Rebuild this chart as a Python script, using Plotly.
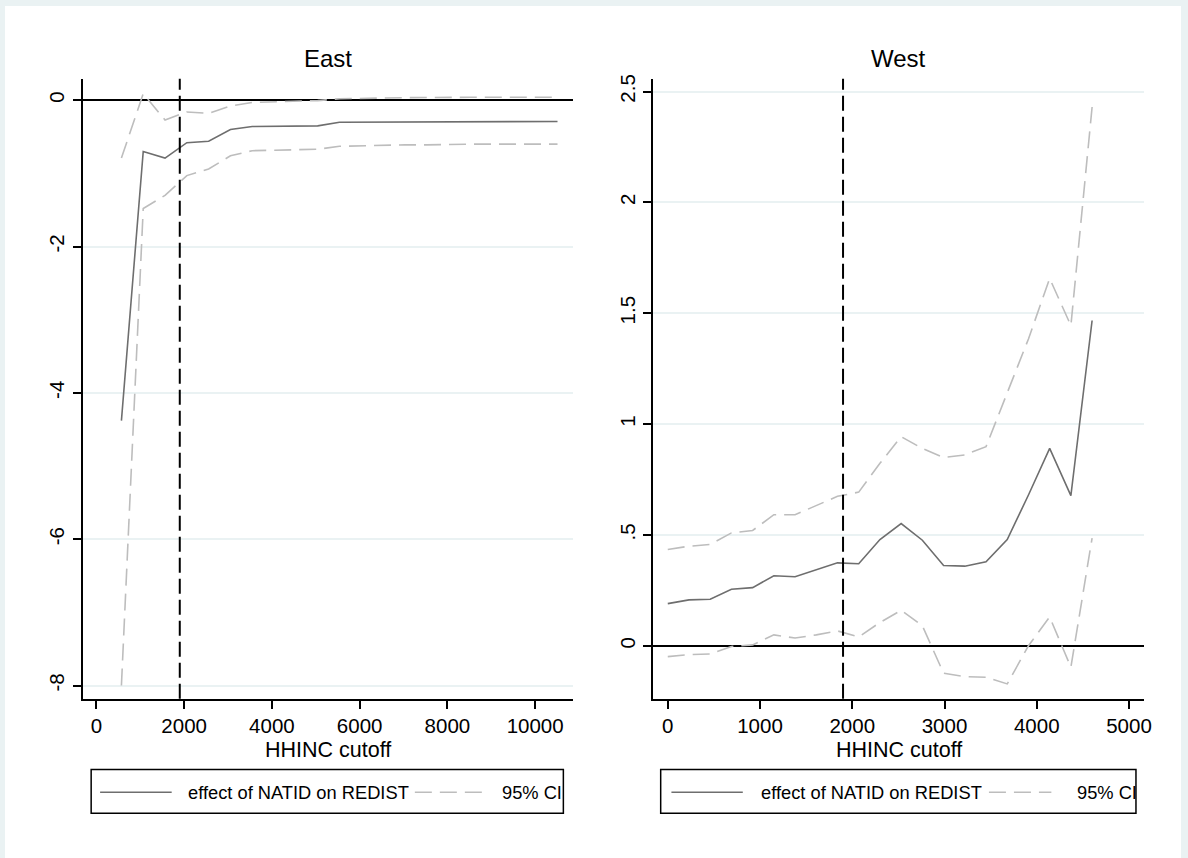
import plotly.graph_objects as go

# ---------------- data ----------------
east_x = [570, 1067, 1564, 2061, 2558, 3055, 3552, 4049, 4546, 5043, 5540,
          6037, 6534, 7031, 7528, 8025, 8522, 9019, 9516, 10013, 10510]
east_est = [-4.38, -0.70, -0.79, -0.58, -0.56, -0.40, -0.36, -0.36, -0.355, -0.35, -0.30,
            -0.30, -0.30, -0.295, -0.29, -0.29, -0.29, -0.29, -0.29, -0.29, -0.29]
east_hi = [-0.79, 0.09, -0.27, -0.16, -0.18, -0.08, -0.03, -0.02, -0.01, -0.005, 0.02,
           0.03, 0.03, 0.035, 0.04, 0.04, 0.04, 0.04, 0.04, 0.04, 0.04]
east_lo = [-8.0, -1.48, -1.30, -1.03, -0.94, -0.76, -0.69, -0.68, -0.68, -0.67, -0.63,
           -0.62, -0.61, -0.61, -0.61, -0.60, -0.60, -0.60, -0.60, -0.60, -0.60]

west_x = [0, 230, 460, 690, 920, 1150, 1380, 1610, 1840, 2070, 2300,
          2530, 2760, 2990, 3220, 3450, 3680, 3910, 4140, 4370, 4600]
west_est = [0.19, 0.207, 0.21, 0.255, 0.262, 0.316, 0.311, 0.344, 0.374, 0.370, 0.479,
            0.551, 0.476, 0.362, 0.359, 0.379, 0.479, 0.68, 0.890, 0.677, 1.467]
west_hi = [0.434, 0.449, 0.457, 0.509, 0.520, 0.591, 0.591, 0.633, 0.674, 0.693, 0.823,
           0.943, 0.890, 0.849, 0.861, 0.898, 1.145, 1.384, 1.657, 1.444, 2.43]
west_lo = [-0.049, -0.040, -0.037, -0.003, 0.004, 0.049, 0.035, 0.049, 0.067, 0.040, 0.105,
           0.160, 0.090, -0.124, -0.139, -0.142, -0.172, 0.0, 0.130, -0.097, 0.486]

cutoff_line = 1900
panel_titles = ["East", "West"]
x_title = "HHINC cutoff"
legend_labels = ["effect of NATID on REDIST", "95% CI"]

east_xticks = [0, 2000, 4000, 6000, 8000, 10000]
east_xticklabels = ["0", "2000", "4000", "6000", "8000", "10000"]
west_xticks = [0, 1000, 2000, 3000, 4000, 5000]
west_xticklabels = ["0", "1000", "2000", "3000", "4000", "5000"]
east_yticks = [0, -2, -4, -6, -8]
east_yticklabels = ["0", "-2", "-4", "-6", "-8"]
west_yticks = [0, 0.5, 1, 1.5, 2, 2.5]
west_yticklabels = ["0", ".5", "1", "1.5", "2", "2.5"]

# ---------------- style ----------------
W, H = 1188, 858
FONT = "Liberation Sans, Arial, sans-serif"
EST_COLOR = "#6e6e6e"
CI_COLOR = "#bdbdbd"
CI_DASH = "17px,8px"
GRID = "#eaf2f3"

def px(x):
    return x / W

def py(y):
    return 1 - y / H

fig = go.Figure()

def add_panel(xs, est, hi, lo, xa, ya):
    fig.add_trace(go.Scatter(x=xs, y=lo, mode="lines", xaxis=xa, yaxis=ya,
                             line=dict(color=CI_COLOR, width=1.6, dash=CI_DASH),
                             name=legend_labels[1], showlegend=False))
    fig.add_trace(go.Scatter(x=xs, y=hi, mode="lines", xaxis=xa, yaxis=ya,
                             line=dict(color=CI_COLOR, width=1.6, dash=CI_DASH),
                             name=legend_labels[1], showlegend=False))
    fig.add_trace(go.Scatter(x=xs, y=est, mode="lines", xaxis=xa, yaxis=ya,
                             line=dict(color=EST_COLOR, width=1.6),
                             name=legend_labels[0], showlegend=False))

add_panel(east_x, east_est, east_hi, east_lo, "x", "y")
add_panel(west_x, west_est, west_hi, west_lo, "x2", "y2")

ydom = [py(698), py(75)]
axis_common = dict(showline=True, linecolor="black", linewidth=2,
                   ticks="outside", ticklen=8, tickwidth=2, tickcolor="black",
                   tickfont=dict(family=FONT, size=20.5, color="black"),
                   mirror=False)

fig.update_layout(
    width=W, height=H,
    margin=dict(l=0, r=0, t=0, b=0),
    paper_bgcolor="#eaf2f3",
    plot_bgcolor="rgba(0,0,0,0)",
    showlegend=False,
    xaxis=dict(domain=[px(83), px(576)], range=[-317, 10854],
               tickvals=east_xticks, ticktext=east_xticklabels,
               showgrid=False, zeroline=False,
               anchor="y", **axis_common),
    yaxis=dict(domain=ydom, range=[-8.181, 0.295],
               tickvals=east_yticks, ticktext=east_yticklabels, tickangle=-90,
               showgrid=True, gridcolor=GRID, gridwidth=1.5,
               zeroline=True, zerolinecolor="black", zerolinewidth=2,
               anchor="x", **axis_common),
    xaxis2=dict(domain=[px(656.7), px(1151)], range=[-162, 5165],
                tickvals=west_xticks, ticktext=west_xticklabels,
                showgrid=False, zeroline=False,
                anchor="y2", **axis_common),
    yaxis2=dict(domain=ydom, range=[-0.239, 2.558],
                tickvals=west_yticks, ticktext=west_yticklabels, tickangle=-90,
                showgrid=True, gridcolor=GRID, gridwidth=1.5,
                zeroline=True, zerolinecolor="black", zerolinewidth=2,
                anchor="x2", **axis_common),
)

shapes = []
# white page inside thin light border
shapes.append(dict(type="rect", xref="paper", yref="paper", x0=px(5), x1=1, y0=0, y1=py(2),
                   fillcolor="white", line=dict(width=0), layer="below"))
# vertical cutoff lines
for xr, yr in [("x", "y domain"), ("x2", "y2 domain")]:
    shapes.append(dict(type="line", xref=xr, yref=yr, x0=cutoff_line, x1=cutoff_line, y0=0, y1=1,
                       line=dict(color="black", width=2, dash="15px,6px"), layer="above"))

annotations = []
panel_x = [(83, 576), (656.7, 1151)]
# panel titles and x-axis titles
for title, (x0, x1) in zip(panel_titles, panel_x):
    annotations.append(dict(text=title, x=px((x0 + x1) / 2), y=py(55), xref="paper", yref="paper",
                            showarrow=False, xanchor="center", yanchor="middle",
                            font=dict(family=FONT, size=24, color="black")))
    annotations.append(dict(text=x_title, x=px((x0 + x1) / 2), y=py(749), xref="paper", yref="paper",
                            showarrow=False, xanchor="center", yanchor="middle",
                            font=dict(family=FONT, size=21.5, color="black")))

# manual legends
legend_boxes = [
    dict(box=(91.7, 566.7), l1=(100.7, 172.7), t1=187.3, l2=(417.3, 488.3), t2=503.3),
    dict(box=(664.6, 1142.7), l1=(675.4, 747.2), t1=763.3, l2=(994.8, 1057.6), t2=1081.0),
]
for lb in legend_boxes:
    bx0, bx1 = lb["box"]
    shapes.append(dict(type="rect", xref="paper", yref="paper", x0=px(bx0), x1=px(bx1),
                       y0=py(813), y1=py(769), line=dict(color="black", width=1.5),
                       fillcolor="white", layer="above"))
    shapes.append(dict(type="line", xref="paper", yref="paper", x0=px(lb["l1"][0]), x1=px(lb["l1"][1]),
                       y0=py(792), y1=py(792), line=dict(color=EST_COLOR, width=1.6)))
    shapes.append(dict(type="line", xref="paper", yref="paper", x0=px(lb["l2"][0]), x1=px(lb["l2"][1]),
                       y0=py(792), y1=py(792), line=dict(color=CI_COLOR, width=1.6, dash=CI_DASH)))
    annotations.append(dict(text=legend_labels[0], x=px(lb["t1"]), y=py(792), xref="paper", yref="paper",
                            showarrow=False, xanchor="left", yanchor="middle",
                            font=dict(family=FONT, size=18.3, color="black")))
    annotations.append(dict(text=legend_labels[1], x=px(lb["t2"]), y=py(792), xref="paper", yref="paper",
                            showarrow=False, xanchor="left", yanchor="middle",
                            font=dict(family=FONT, size=18.3, color="black")))

fig.update_layout(shapes=shapes, annotations=annotations)
fig.write_html("out.html",
               config={"displayModeBar": False},
               post_script="document.body.style.margin='0px';document.body.style.overflow='hidden';")
